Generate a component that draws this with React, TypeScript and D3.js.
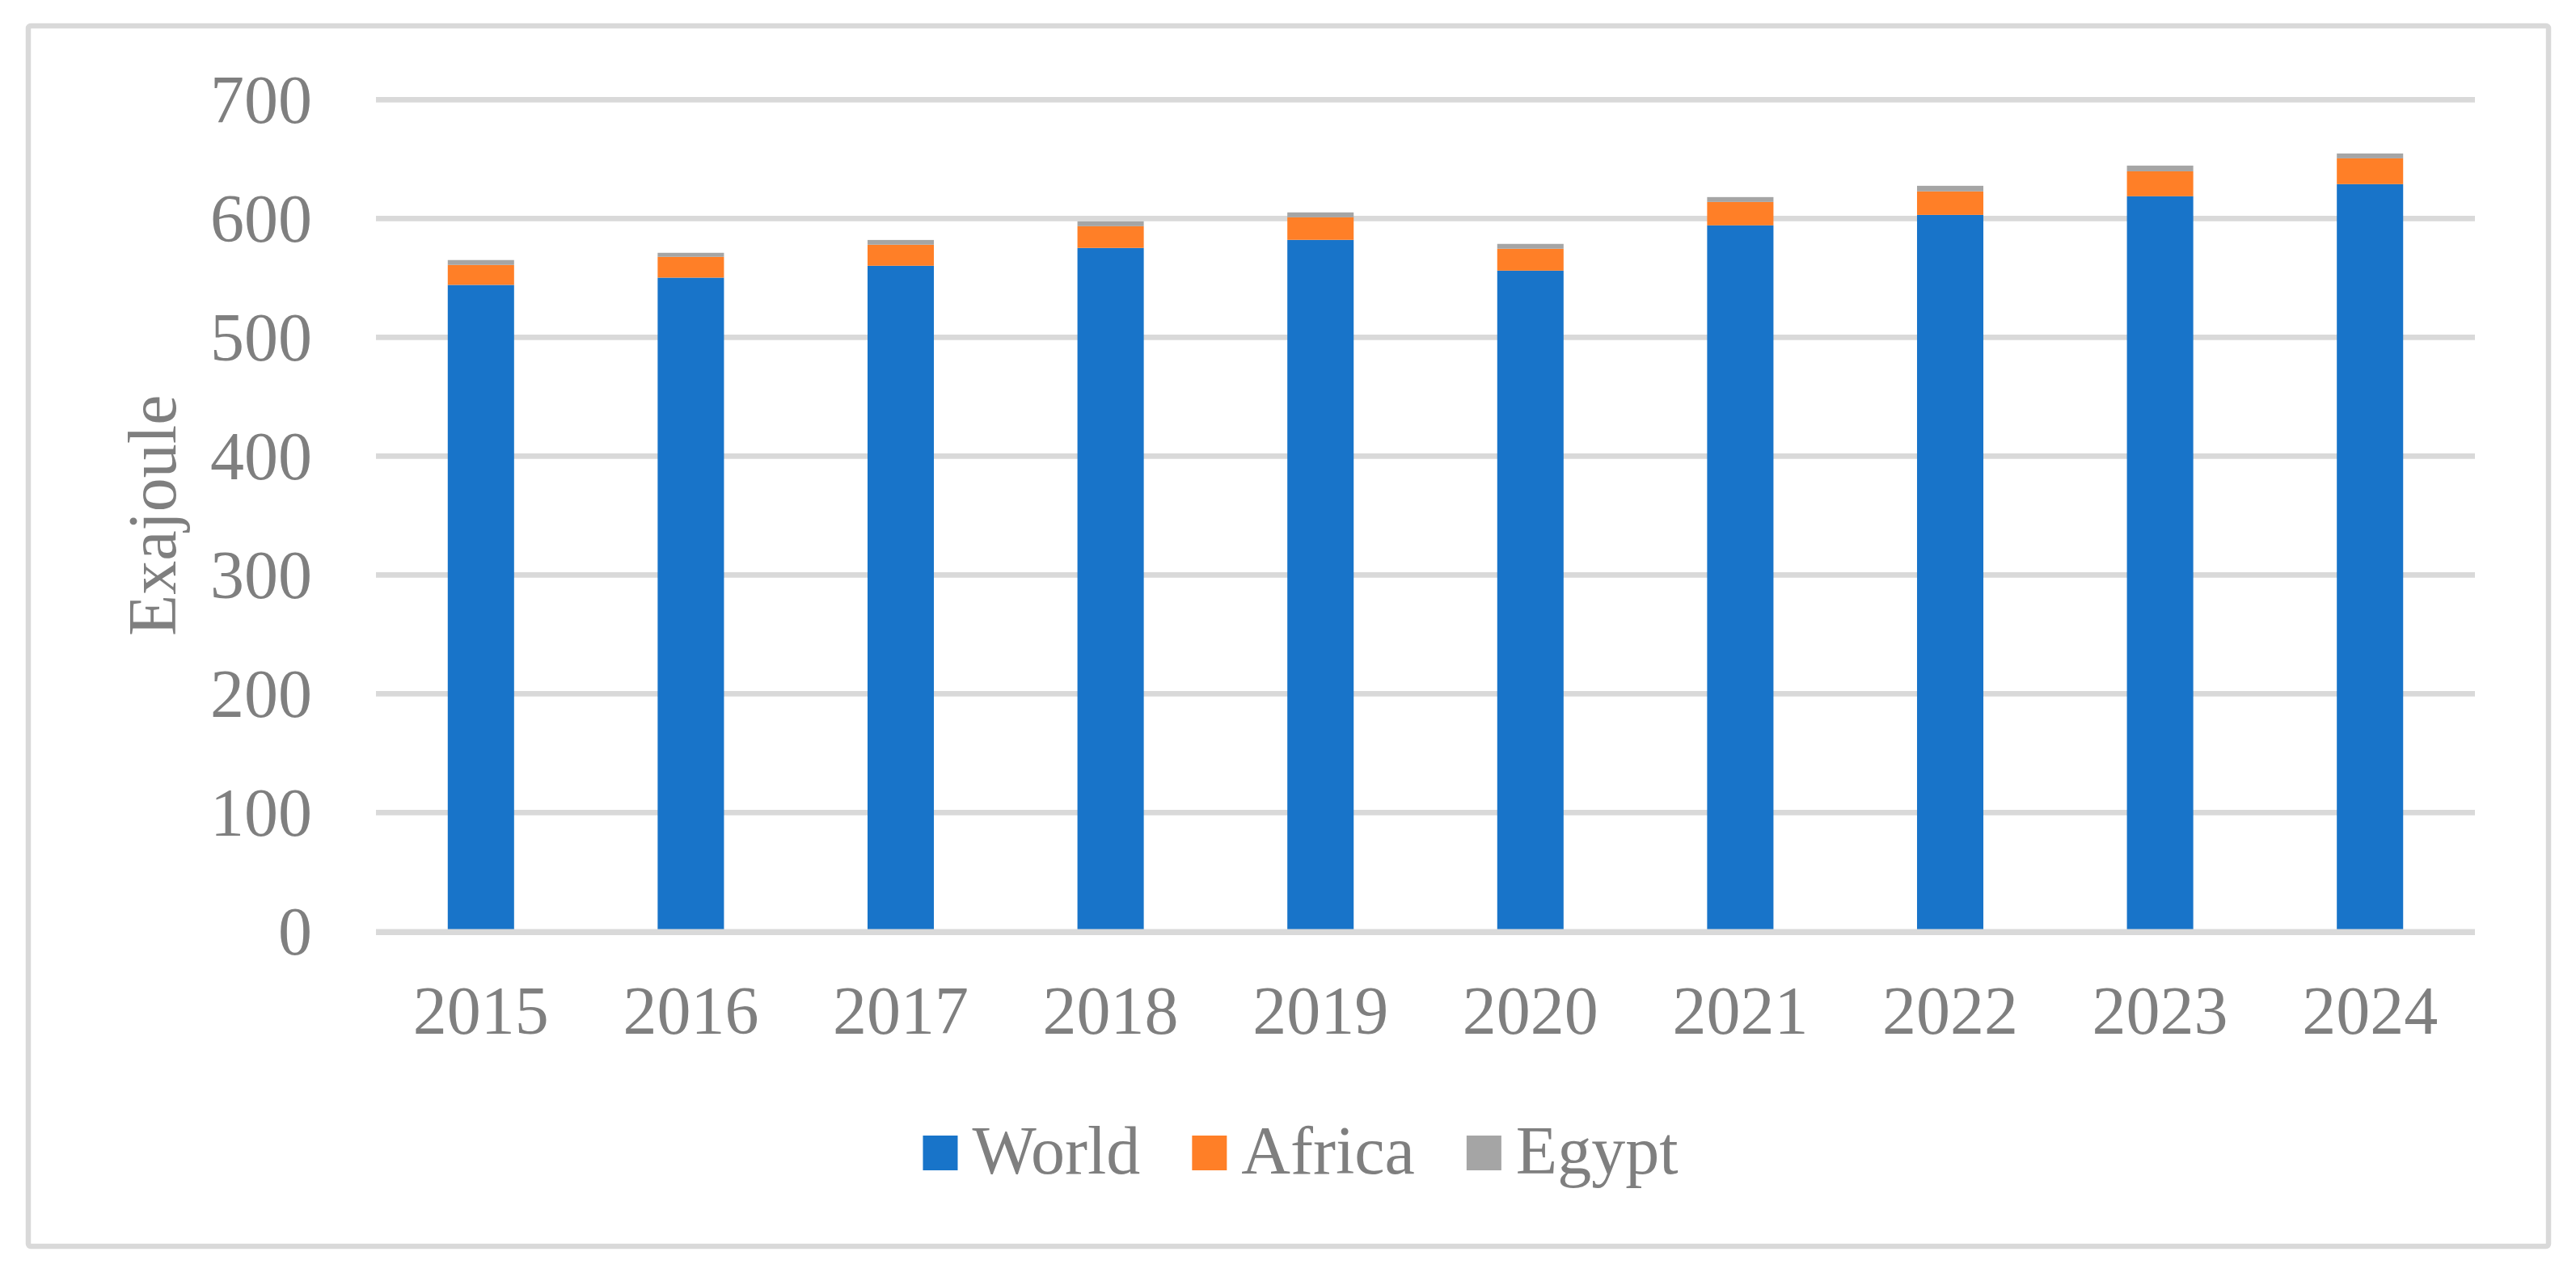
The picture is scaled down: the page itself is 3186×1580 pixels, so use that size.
import React, { useRef, useEffect } from 'react';
import * as d3 from 'd3';

// values (Exajoule)
const years = ['2015', '2016', '2017', '2018', '2019', '2020', '2021', '2022', '2023', '2024'];
const world = [544.1, 550.2, 560.2, 575.2, 582.0, 556.1, 594.2, 603.0, 618.7, 628.9];
const africa = [16.8, 17.5, 17.7, 18.3, 19.0, 18.4, 19.7, 19.8, 21.0, 21.7];
const egypt = [4.1, 3.4, 4.0, 4.1, 4.1, 4.1, 4.1, 4.7, 4.8, 4.1];
const seriesNames = ['World', 'Africa', 'Egypt'];
const seriesColors = ['#1874c9', '#ff7f27', '#a5a5a5'];
const yTicks = [0, 100, 200, 300, 400, 500, 600, 700];
const yTitle = 'Exajoule';

const App: React.FC = () => {
  const svgRef = useRef<SVGSVGElement | null>(null);

  const width = 3186;
  const height = 1580;
  const plotLeft = 465;
  const plotRight = 3061;
  const plotTop = 123.3;
  const plotBottom = 1152.3;
  const font = '"Liberation Serif", "Times New Roman", serif';
  const textColor = '#7f7f7f';
  const gridColor = '#d9d9d9';

  useEffect(() => {
    const svg = d3.select(svgRef.current);
    svg.selectAll('*').remove();

    const rows = years.map((year, i) => ({
      year,
      World: world[i],
      Africa: africa[i],
      Egypt: egypt[i],
    }));

    const x = d3.scaleBand<string>()
      .domain(years)
      .range([plotLeft, plotRight])
      .paddingInner(0.684)
      .paddingOuter(0.342);

    const y = d3.scaleLinear()
      .domain([0, 700])
      .range([plotBottom, plotTop]);

    const color = d3.scaleOrdinal<string, string>().domain(seriesNames).range(seriesColors);

    // outer frame
    svg.append('rect')
      .attr('x', 35)
      .attr('y', 32)
      .attr('width', 3117)
      .attr('height', 1510)
      .attr('rx', 3)
      .attr('fill', 'white')
      .attr('stroke', gridColor)
      .attr('stroke-width', 6.5);

    // gridlines
    svg.append('g')
      .selectAll('line')
      .data(yTicks.filter(t => t > 0))
      .join('line')
      .attr('x1', plotLeft)
      .attr('x2', plotRight)
      .attr('y1', d => y(d))
      .attr('y2', d => y(d))
      .attr('stroke', gridColor)
      .attr('stroke-width', 6.7);

    // stacked bars
    const stack = d3.stack<any>().keys(seriesNames);
    const layers = stack(rows);

    svg.append('g')
      .selectAll('g')
      .data(layers)
      .join('g')
      .attr('fill', d => color(d.key))
      .selectAll('rect')
      .data(d => d)
      .join('rect')
      .attr('x', d => x(d.data.year) as number)
      .attr('width', x.bandwidth())
      .attr('y', d => y(d[1]))
      .attr('height', d => y(d[0]) - y(d[1]));

    // category axis line
    svg.append('line')
      .attr('x1', plotLeft)
      .attr('x2', plotRight)
      .attr('y1', y(0) + 1)
      .attr('y2', y(0) + 1)
      .attr('stroke', gridColor)
      .attr('stroke-width', 7.5);

    // y tick labels
    svg.append('g')
      .selectAll('text')
      .data(yTicks)
      .join('text')
      .attr('x', 386)
      .attr('y', d => y(d))
      .attr('dy', '0.34em')
      .attr('text-anchor', 'end')
      .attr('font-family', font)
      .attr('font-size', 84)
      .attr('fill', textColor)
      .text(d => d);

    // x tick labels
    svg.append('g')
      .selectAll('text')
      .data(years)
      .join('text')
      .attr('x', d => (x(d) as number) + x.bandwidth() / 2)
      .attr('y', 1279)
      .attr('text-anchor', 'middle')
      .attr('font-family', font)
      .attr('font-size', 84)
      .attr('fill', textColor)
      .text(d => d);

    // y axis title
    svg.append('text')
      .attr('transform', `translate(216.7,${(plotTop + plotBottom) / 2}) rotate(-90)`)
      .attr('text-anchor', 'middle')
      .attr('font-family', font)
      .attr('font-size', 84)
      .attr('fill', textColor)
      .text(yTitle);

    // legend, laid out from measured text widths
    const legend = svg.append('g');
    const sw = 43;
    const swGap = 18;
    const itemGap = 64;
    const items = seriesNames.map(name => {
      const g = legend.append('g');
      g.append('rect')
        .attr('width', sw)
        .attr('height', sw)
        .attr('y', 1405)
        .attr('fill', color(name));
      const t = g.append('text')
        .attr('x', sw + swGap)
        .attr('y', 1452)
        .attr('font-family', font)
        .attr('font-size', 84)
        .attr('fill', textColor)
        .text(name);
      const w = (t.node() as SVGTextElement).getComputedTextLength();
      return { g, w: sw + swGap + w };
    });
    const total = d3.sum(items, d => d.w) + itemGap * (items.length - 1);
    let cx = 1608.5 - total / 2;
    items.forEach(it => {
      it.g.attr('transform', `translate(${cx},0)`);
      cx += it.w + itemGap;
    });
  }, []);

  return (
    <svg
      ref={svgRef}
      width={width}
      height={height}
      style={{ position: 'absolute', left: 0, top: 0, background: 'white' }}
    ></svg>
  );
};

export default App;
